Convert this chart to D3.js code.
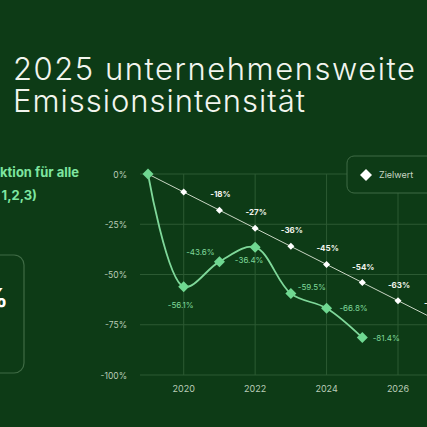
<!DOCTYPE html>
<html>
<head>
<script src="https://cdn.jsdelivr.net/npm/d3@7"></script>
<style>
body { margin: 0; background: #0d3b16; }
svg { display: block; font-family: Inter, "Noto Sans", sans-serif; }
</style>
</head>
<body>
<svg width="427" height="427"></svg>
<script>
var years = [2019, 2020, 2021, 2022, 2023, 2024, 2025, 2026, 2027, 2028];
var target = [0, -9, -18, -27, -36, -45, -54, -63, -72, -81];
var actualYears = [2019, 2020, 2021, 2022, 2023, 2024, 2025];
var actual = [0, -56.1, -43.6, -36.4, -59.5, -66.8, -81.4];
var yTicks = [0, -25, -50, -75, -100];
var xTicks = [2020, 2022, 2024, 2026];

var svg = d3.select("svg");
svg.append("rect").attr("width", 427).attr("height", 427).attr("fill", "#0d3b16");

// title
svg.append("text").attr("x", 13).attr("y", 80).attr("fill", "#f2f5ee")
  .attr("font-size", 31).attr("font-weight", 300).attr("textLength", 402).text("2025 unternehmensweite");
svg.append("text").attr("x", 13).attr("y", 112).attr("fill", "#f2f5ee")
  .attr("font-size", 31).attr("font-weight", 300).attr("textLength", 292).text("Emissionsintensität");

// left panel (cut off)
svg.append("text").attr("x", 79).attr("y", 177).attr("text-anchor", "end")
  .attr("fill", "#7ee6a0").attr("font-weight", "bold").attr("font-size", 13).text("Reduktion für alle");
svg.append("text").attr("x", 37).attr("y", 200).attr("text-anchor", "end")
  .attr("fill", "#7ee6a0").attr("font-weight", "bold").attr("font-size", 13).text("(Scope 1,2,3)");
svg.append("rect").attr("x", -30).attr("y", 255).attr("width", 54).attr("height", 118).attr("rx", 10)
  .attr("fill", "none").attr("stroke", "#3f6b45").attr("stroke-width", 1.2);
svg.append("text").attr("x", 8).attr("y", 307).attr("text-anchor", "end")
  .attr("fill", "#fff").attr("font-weight", "bold").attr("font-size", 26).text("%");

var x = d3.scaleLinear().domain([2019, 2026]).range([148, 398]);
var y = d3.scaleLinear().domain([0, -100]).range([174, 375]);

var g = svg.append("g");
g.selectAll(".hg").data(yTicks).join("line")
  .attr("x1", 140).attr("x2", 427).attr("y1", d => y(d)).attr("y2", d => y(d))
  .attr("stroke", "#2c5a33").attr("stroke-width", 1);
g.selectAll(".vg").data(xTicks).join("line")
  .attr("x1", d => x(d)).attr("x2", d => x(d)).attr("y1", 174).attr("y2", 375)
  .attr("stroke", "#2c5a33").attr("stroke-width", 1);
g.selectAll(".yl").data(yTicks).join("text")
  .attr("x", 127).attr("y", d => y(d) + 3.5).attr("text-anchor", "end")
  .attr("fill", "#b9cdb8").attr("font-size", 8.5).text(d => d + "%");
g.selectAll(".xl").data(xTicks).join("text")
  .attr("x", d => x(d)).attr("y", 392).attr("text-anchor", "middle")
  .attr("fill", "#b9cdb8").attr("font-size", 9).text(d => d);

function diamond(s) { return "M0," + (-s) + "L" + s + ",0L0," + s + "L" + (-s) + ",0Z"; }

// target line
var tData = years.map((d, i) => [d, target[i]]);
svg.append("path").datum(tData)
  .attr("d", d3.line().x(d => x(d[0])).y(d => y(d[1])))
  .attr("fill", "none").attr("stroke", "#c9d6c4").attr("stroke-width", 1);
svg.selectAll(".td").data(tData.slice(1)).join("path")
  .attr("d", diamond(3.5))
  .attr("transform", d => "translate(" + x(d[0]) + "," + y(d[1]) + ")")
  .attr("fill", "#fff");
svg.selectAll(".tl").data(tData.slice(2)).join("text")
  .attr("x", d => x(d[0]) + 1).attr("y", d => y(d[1]) - 13).attr("text-anchor", "middle")
  .attr("fill", "#f2f5ee").attr("font-weight", "bold").attr("font-size", 8).text(d => d[1] + "%");

// actual line
var aData = actualYears.map((d, i) => [d, actual[i]]);
svg.append("path").datum(aData)
  .attr("d", d3.line().curve(d3.curveCatmullRom.alpha(0.5)).x(d => x(d[0])).y(d => y(d[1])))
  .attr("fill", "none").attr("stroke", "#7fd89a").attr("stroke-width", 1.8);
svg.selectAll(".ad").data(aData).join("path")
  .attr("d", diamond(5.5))
  .attr("transform", d => "translate(" + x(d[0]) + "," + y(d[1]) + ")")
  .attr("fill", "#6fd891");
var aOff = [null, [-3, 21], [-19, -7], [-6, 16], [21, -4], [27, 3], [24, 3]];
svg.selectAll(".al").data(aData.slice(1)).join("text")
  .attr("x", (d, i) => x(d[0]) + aOff[i + 1][0])
  .attr("y", (d, i) => y(d[1]) + aOff[i + 1][1])
  .attr("text-anchor", "middle")
  .attr("fill", "#7fd89a").attr("font-size", 8).text(d => d[1] + "%");

// legend
svg.append("rect").attr("x", 347).attr("y", 156).attr("width", 100).attr("height", 37).attr("rx", 7)
  .attr("fill", "#0d3b16").attr("stroke", "#3f6b45");
svg.append("path").attr("d", diamond(6))
  .attr("transform", "translate(366,175)").attr("fill", "#fff");
svg.append("text").attr("x", 379).attr("y", 178).attr("fill", "#c9d6c4").attr("font-size", 9).text("Zielwert");
</script>
</body>
</html>
